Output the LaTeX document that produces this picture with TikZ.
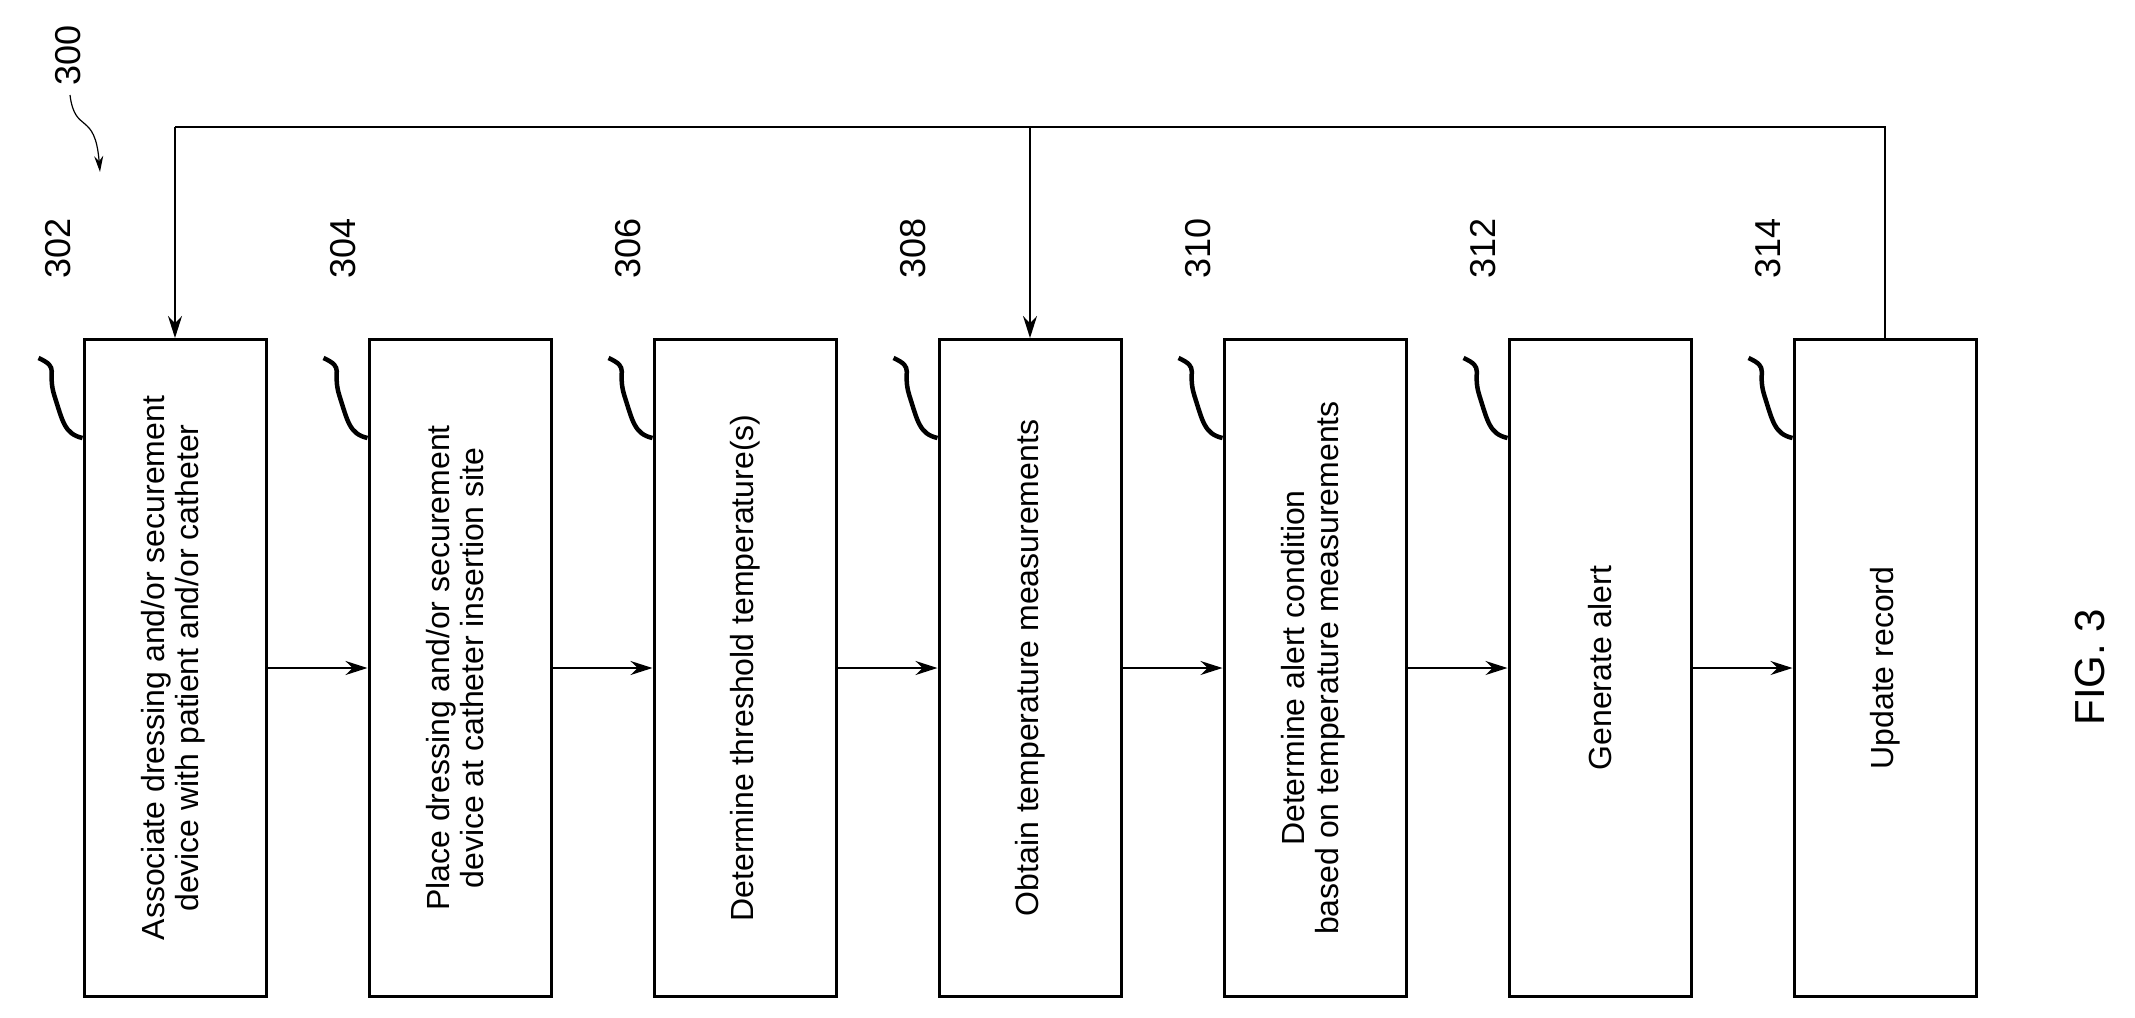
\documentclass[tikz,border=0pt]{standalone}
\usepackage{fontspec}
\setmainfont{Liberation Sans}
\usetikzlibrary{positioning,arrows.meta,calc}
\begin{document}
\begin{tikzpicture}[x=1pt,y=-1pt]
  \tikzset{
    task/.style={draw, line width=3pt, minimum width=182pt, minimum height=657pt, inner sep=0pt, font=\fontsize{32}{34}\selectfont, node distance=100pt},
    line/.style={draw, line width=1.6pt, -{Stealth[length=22pt,width=14pt]}},
    lead/.style={draw, line width=4.5pt},
    num/.style={font=\fontsize{36}{36}\selectfont, rotate=90},
  }
  \useasboundingbox (0,0) rectangle (2135,1017);
  \node [task] (s302) at (175,668) {\rotatebox{90}{\begin{tabular}{c}Associate dressing and/or securement\\device with patient and/or catheter\end{tabular}}};
  \node [task, right=of s302] (s304) {\rotatebox{90}{\begin{tabular}{c}Place dressing and/or securement\\device at catheter insertion site\end{tabular}}};
  \node [task, right=of s304] (s306) {\rotatebox{90}{Determine threshold temperature(s)}};
  \node [task, right=of s306] (s308) {\rotatebox{90}{Obtain temperature measurements}};
  \node [task, right=of s308] (s310) {\rotatebox{90}{\begin{tabular}{c}Determine alert condition\\based on temperature measurements\end{tabular}}};
  \node [task, right=of s310] (s312) {\rotatebox{90}{Generate alert}};
  \node [task, right=of s312] (s314) {\rotatebox{90}{Update record}};

  \path [line] (s302)--(s304);
  \path [line] (s304)--(s306);
  \path [line] (s306)--(s308);
  \path [line] (s308)--(s310);
  \path [line] (s310)--(s312);
  \path [line] (s312)--(s314);

  % feedback loop
  \coordinate (top) at (0,127);
  \draw [line width=1.6pt] (s314.north) -- (s314.north |- top) -- (s302.north |- top);
  \path [line] (s302.north |- top) -- (s302.north);
  \path [line] (s308.north |- top) -- (s308.north);

  % reference numerals
  \foreach \s/\n in {s302/302,s304/304,s306/306,s308/308,s310/310,s312/312,s314/314}{
    \node [num] (n\n) at ($(\s.north west)+(-24,-90)$) {\n};
    \path [lead] ($(\s.north west)+(-44,20)$) .. controls +(22,10) and +(-8,-25) .. ($(\s.north west)+(-28,58)$)
      .. controls +(8,25) and +(-18,-4) .. ($(\s.north west)+(0,100)$);
  }
  \node [num] (n300) at (68,55) {300};
  \path [line, line width=1.2pt, -{Stealth[length=16pt,width=9pt]}] (70,95) .. controls (75,135) and (95,110) .. (100,172);
  \node [font=\fontsize{42}{42}\selectfont, rotate=90] (fig) at (2090,667) {FIG. 3};
\end{tikzpicture}
\end{document}
